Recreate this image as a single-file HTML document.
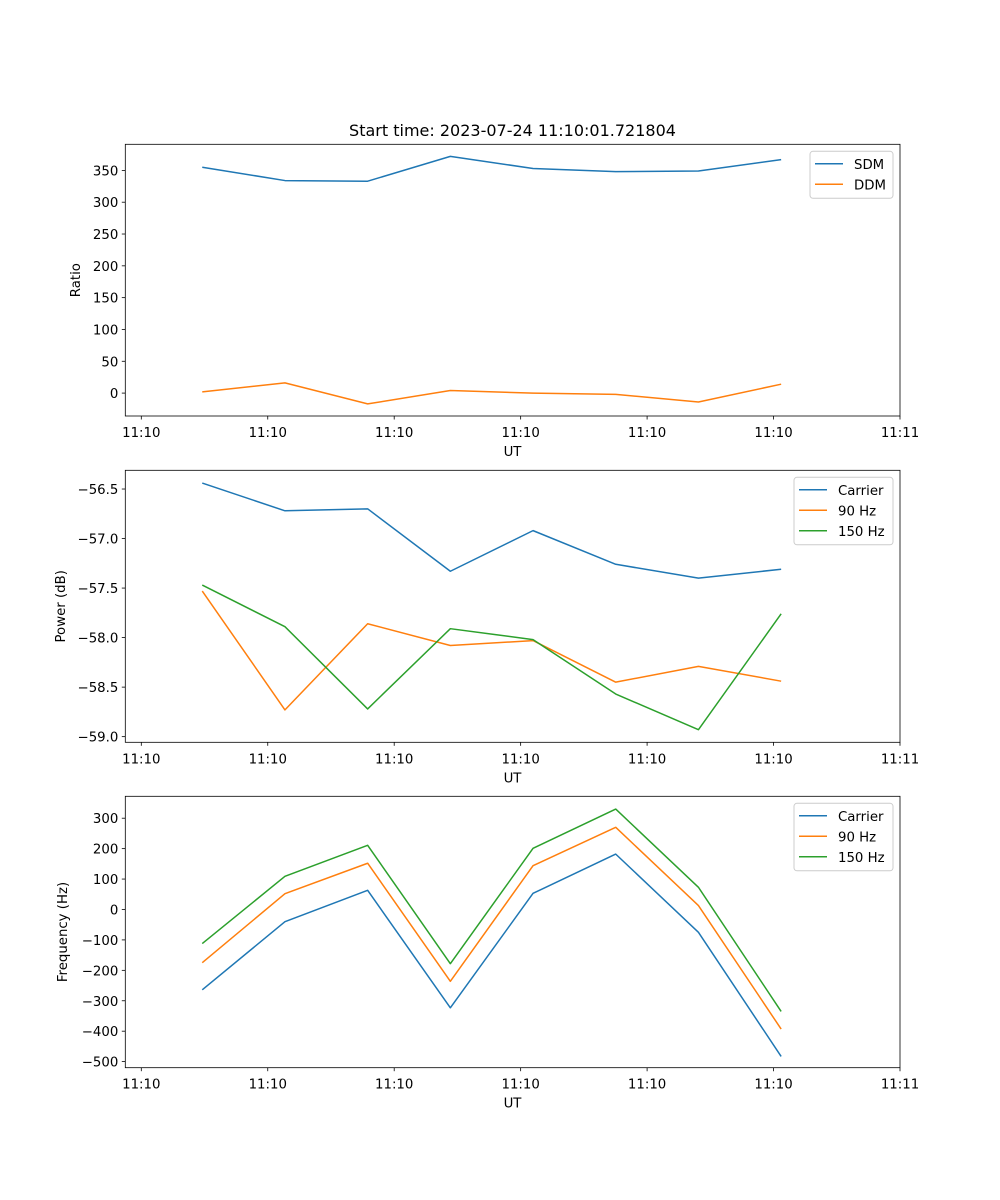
<!DOCTYPE html>
<html><head><meta charset="utf-8"><style>
html,body{margin:0;padding:0;background:#fff;}
svg{display:block;font-family:"DejaVu Sans","Liberation Sans",sans-serif;}
</style></head><body>
<svg id="fig" width="1000" height="1200" viewBox="0 0 1000 1200" xmlns="http://www.w3.org/2000/svg">
<rect width="1000" height="1200" fill="#fff"/>
<text x="512.5" y="136" text-anchor="middle" font-size="16" fill="#000">Start time: 2023-07-24 11:10:01.721804</text>
</svg>
<script>
const xTickLabels = ["11:10","11:10","11:10","11:10","11:10","11:10","11:11"];
const times = [0.482,1.136,1.79,2.444,3.098,3.752,4.406,5.06];
const sdm = [355,334,333,372,353,348,349,367];
const ddm = [2,16,-17,4,0,-2,-14,14];
const pCarrier = [-56.44,-56.72,-56.70,-57.33,-56.92,-57.26,-57.40,-57.31];
const p90 = [-57.53,-58.73,-57.86,-58.08,-58.03,-58.45,-58.29,-58.44];
const p150 = [-57.47,-57.89,-58.72,-57.91,-58.02,-58.57,-58.93,-57.76];
const fCarrier = [-264,-40,63,-323,53,182,-75,-483];
const f90 = [-175,52,152,-236,144,270,13,-393];
const f150 = [-112,109,211,-178,201,330,73,-335];
const ratioTicks = [0,50,100,150,200,250,300,350];
const powerTicks = [-59.0,-58.5,-58.0,-57.5,-57.0,-56.5];
const freqTicks = [-500,-400,-300,-200,-100,0,100,200,300];

const NS="http://www.w3.org/2000/svg";
const svg=document.getElementById('fig');
const C1="#1f77b4",C2="#ff7f0e",C3="#2ca02c";
const FS=13.3;
function el(tag,attrs,parent){const e=document.createElementNS(NS,tag);for(const k in attrs)e.setAttribute(k,attrs[k]);(parent||svg).appendChild(e);return e;}
const L=125.3,R=900;
function xs(t){return 141.3+t*126.45;}

function panel(name,top,bot,ymin,ymax,yTicks,fmt,ylabel,ylabelX,series,legend){
  const g=el('g',{});
  
  
  const ys=v=>bot-(v-ymin)/(ymax-ymin)*(bot-top);
  series.forEach(s=>{
    const p=el('polyline',{points:times.map((t,i)=>xs(t).toFixed(2)+','+ys(s.v[i]).toFixed(2)).join(' '),fill:'none',stroke:s.c,'stroke-width':1.5,'stroke-linejoin':'round'},g);
    
    
  });
  const frame=el('rect',{x:L,y:top,width:R-L,height:bot-top,fill:'none',stroke:'#000','stroke-width':0.8},g);
  
  
  xTickLabels.forEach((lab,i)=>{
    const x=xs(i);
    el('line',{x1:x,x2:x,y1:bot,y2:bot+3.5,stroke:'#000','stroke-width':0.8},g);
    const t=el('text',{x:x,y:bot+21,'text-anchor':'middle','font-size':FS},g);
    t.textContent=lab;
    
    
  });
  const xl=el('text',{x:512.5,y:bot+40,'text-anchor':'middle','font-size':FS},g);
  xl.textContent='UT';
  
  
  yTicks.forEach(v=>{
    const y=ys(v);
    el('line',{x1:L,x2:L-3.5,y1:y,y2:y,stroke:'#000','stroke-width':0.8},g);
    const t=el('text',{x:L-7,y:y+5,'text-anchor':'end','font-size':FS},g);
    t.textContent=fmt(v);
    
    
  });
  const cy=(top+bot)/2;
  const yl=el('text',{x:ylabelX,y:cy,'text-anchor':'middle','font-size':FS,transform:'rotate(-90 '+ylabelX+' '+cy+')'},g);
  yl.textContent=ylabel;
  
  
  const lg=el('g',{},g);
  
  
  el('rect',{x:legend.x,y:top+7,width:893-legend.x,height:series.length*20.5+6,rx:3,fill:'#fff',stroke:'#ccc','stroke-width':1},lg);
  series.forEach((s,i)=>{
    const y=top+19.5+i*20.5;
    el('line',{x1:legend.x+5,x2:legend.x+33,y1:y,y2:y,stroke:s.c,'stroke-width':1.5},lg);
    const t=el('text',{x:legend.x+44,y:y+5,'font-size':FS},lg);
    t.textContent=s.n;
    
    
  });
}
const minus=s=>s.replace('-','\u2212');
panel('ratio',144.3,416,-36,391,ratioTicks,v=>minus(String(v)),'Ratio',80,
  [{n:'SDM',v:sdm,c:C1},{n:'DDM',v:ddm,c:C2}],{x:810});
panel('power',470.3,742.3,-59.057,-56.311,powerTicks,v=>minus(v.toFixed(1)),'Power (dB)',65,
  [{n:'Carrier',v:pCarrier,c:C1},{n:'90 Hz',v:p90,c:C2},{n:'150 Hz',v:p150,c:C3}],{x:794});
panel('frequency',796.3,1067.7,-520,372,freqTicks,v=>minus(String(v)),'Frequency (Hz)',67,
  [{n:'Carrier',v:fCarrier,c:C1},{n:'90 Hz',v:f90,c:C2},{n:'150 Hz',v:f150,c:C3}],{x:794});
</script>
</body></html>
